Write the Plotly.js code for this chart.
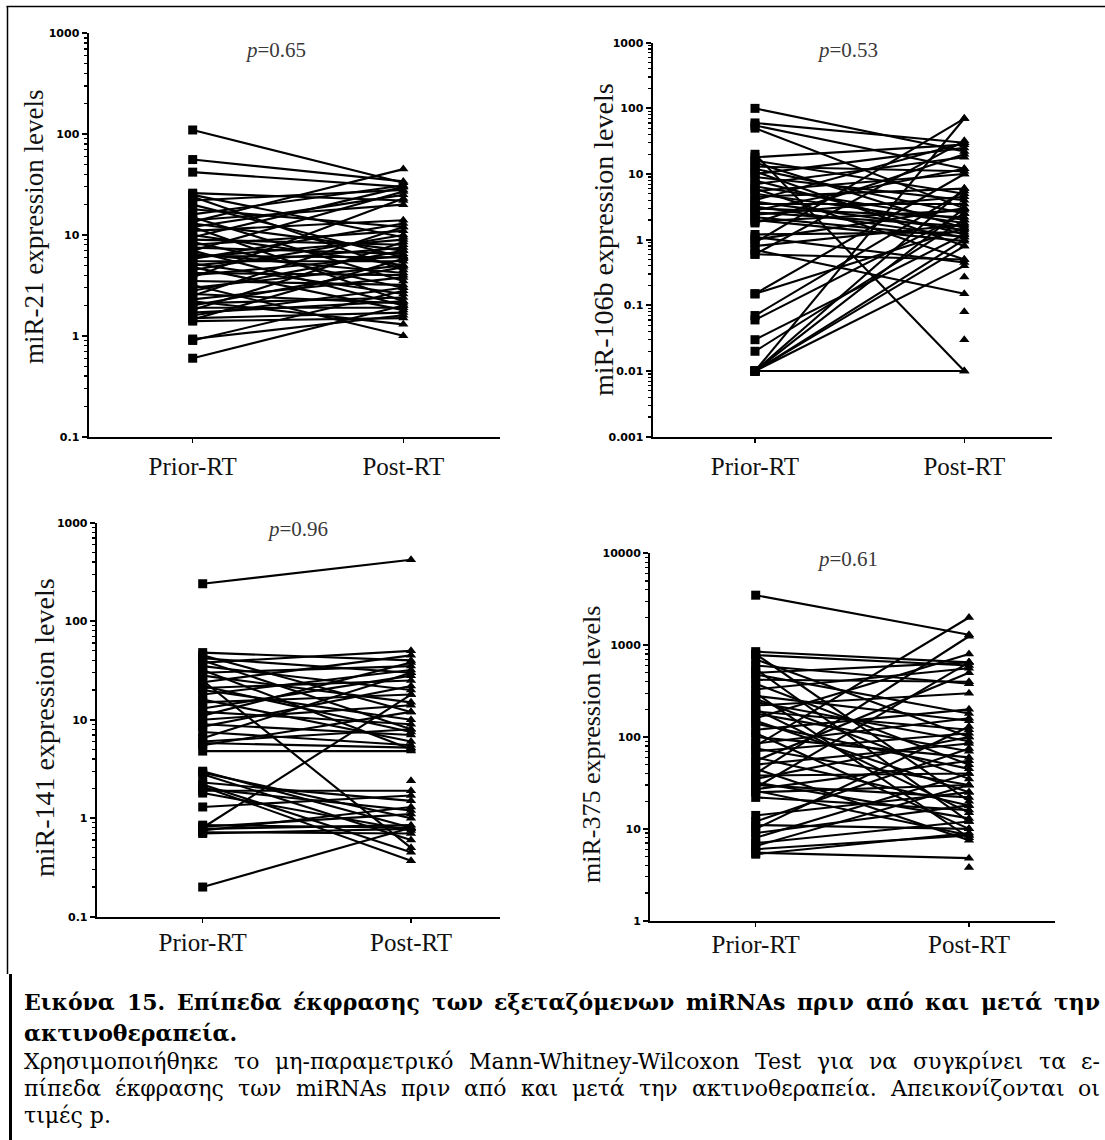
<!DOCTYPE html>
<html>
<head>
<meta charset="utf-8">
<script src="https://cdn.plot.ly/plotly-3.0.1.min.js"></script>
<style>
  html, body { margin: 0; padding: 0; background: #fff; overflow: hidden; }
  #chart { width: 1105px; height: 1140px; }
</style>
</head>
<body>
<div id="chart"></div>
<script>
// ---------------- DATA ----------------
const categories = ['Prior-RT', 'Post-RT'];

// miR-21: paired values (prior[i] -> post[i])
const prior21 = [110, 56, 42, 26, 25, 24, 22, 20, 18, 16, 15, 14, 13, 12, 12, 11, 10, 9.5, 9, 8.5,
                 8, 7.5, 7, 7, 6.5, 6.2, 6, 5.8, 5.5, 5.2, 5, 4.8, 4.5, 4.2, 4, 3.8, 3.5, 3.2, 3, 2.8,
                 2.6, 2.5, 2.3, 2.2, 2.1, 2.0, 1.9, 1.8, 1.7, 1.6, 1.5, 1.45, 1.4, 0.93, 0.9, 0.6, 13.5];
const post21  = [33, 34, 30, 22, 9.5, 4.5, 28, 6, 12, 31, 3.5, 20, 7, 25, 2.2, 14, 5, 30, 8, 3,
                 11, 6.5, 2.0, 27, 4.2, 6, 9, 13, 5.5, 2.6, 7.5, 1.8, 10, 4, 6.2, 23, 3.2, 1.0, 5, 7,
                 2.1, 12, 3.8, 1.3, 2.4, 4.8, 1.9, 8.5, 2.2, 3, 1.7, 5.8, 1.5, 1.6, 2.8, 2.0, 45];
const postOnly21 = [];

// miR-106b
const prior106 = [100, 60, 55, 50, 20, 18, 16, 15, 13, 12, 11, 10, 9, 8, 7, 6.5, 6, 5.5, 5, 4.5,
                  4, 3.8, 3.5, 3.2, 3, 2.8, 2.6, 2.4, 2.2, 2, 1.9, 1.8, 1.2, 1.1, 1.0, 0.9, 0.8, 0.7, 0.6, 0.6,
                  0.15, 0.15, 0.07, 0.06, 0.03, 0.02, 0.01, 0.01, 0.01, 0.01, 0.01, 0.01, 0.01];
const post106  = [22, 30, 12, 3, 0.01, 28, 5, 1.5, 11, 2.5, 0.8, 25, 4, 1.2, 18, 2, 0.5, 10, 1.8, 6,
                  30, 1.4, 3.5, 1.1, 2.2, 12, 1.6, 4.5, 1.1, 0.95, 2.8, 20, 1.3, 0.45, 3, 70, 1.7, 0.15, 0.5, 32,
                  1.5, 10, 5.5, 2.5, 1.2, 2, 0.01, 0.4, 0.8, 1, 3, 6, 70];
const postOnly106 = [0.27, 0.08, 0.03];

// miR-141
const prior141 = [240, 48, 45, 42, 40, 38, 35, 32, 30, 28, 25, 24, 22, 21, 20, 18, 16, 15, 13, 12,
                  11, 10, 9, 8.5, 7.5, 6.5, 6, 5.8, 5.5, 4.8, 3, 2.9, 2.8, 2.3, 2.2, 2.0, 1.9, 1.8, 1.3, 0.85,
                  0.82, 0.8, 0.78, 0.75, 0.72, 0.7, 0.2, 2.1];
const post141  = [420, 40, 12, 30, 8, 50, 20, 5, 35, 15, 0.5, 45, 7.5, 25, 10, 32, 6, 18, 28, 9,
                  38, 14, 7, 22, 5.5, 30, 8, 5.2, 12, 4.8, 0.8, 1.0, 0.6, 1.5, 0.45, 1.2, 1.9, 0.75, 1.7, 0.8,
                  1.1, 18, 0.85, 1.3, 0.7, 0.78, 0.8, 0.37];
const postOnly141 = [2.4];

// miR-375
const prior375 = [3500, 850, 800, 780, 700, 600, 550, 500, 480, 420, 380, 330, 300, 280, 260, 240, 220, 200, 190, 180,
                  160, 150, 140, 120, 110, 100, 85, 80, 75, 70, 60, 55, 50, 45, 40, 38, 35, 32, 30, 28,
                  27, 26, 25, 22, 14, 12, 11, 10, 9, 8, 7, 6.5, 6, 5.5, 5.3];
const post375  = [1300, 650, 20, 600, 100, 380, 12, 650, 180, 400, 50, 560, 8, 150, 35, 90, 300, 15, 120, 70,
                  800, 25, 45, 200, 10, 60, 160, 2000, 30, 110, 18, 500, 85, 7.5, 1250, 40, 100, 13, 22, 650,
                  55, 8.5, 30, 16, 25, 75, 10, 130, 18, 40, 12, 30, 8.5, 4.8, 9];
const postOnly375 = [3.8];

const pValues = ['0.65', '0.53', '0.96', '0.61'];
const yTitles = ['miR-21 expression levels', 'miR-106b expression levels',
                 'miR-141 expression levels', 'miR-375 expression levels'];

const captionBold1 = 'Εικόνα 15. Επίπεδα έκφρασης των εξεταζόμενων miRNAs πριν από και μετά την';
const captionBold2 = 'ακτινοθεραπεία.';
const captionReg1 = 'Χρησιμοποιήθηκε το μη-παραμετρικό Mann-Whitney-Wilcoxon Test για να συγκρίνει τα ε-';
const captionReg2 = 'πίπεδα έκφρασης των miRNAs πριν από και μετά την ακτινοθεραπεία. Απεικονίζονται οι';
const captionReg3 = 'τιμές p.';

// ---------------- LAYOUT GEOMETRY (pixels) ----------------
const W = 1105, H = 1140;
const fx = p => p / W;
const fy = p => 1 - p / H;

const panels = [
  {prior: prior21, post: post21, only: postOnly21, ax: 88.5, c0: 192.7, c1: 403.3, end: 500,
   top: 33.3, bot: 436.7, yr: [-1, 3], tX: 34, tY: 227, tS: 27, pX: 275, pY: 50, catS: 25, catOff: 2},
  {prior: prior106, post: post106, only: postOnly106, ax: 652.5, c0: 755, c1: 964.3, end: 1051.7,
   top: 42.7, bot: 436.7, yr: [-3, 3], tX: 603, tY: 240, tS: 28, pX: 847, pY: 50, catS: 25, catOff: 2},
  {prior: prior141, post: post141, only: postOnly141, ax: 96.7, c0: 202.7, c1: 411, end: 500,
   top: 522.7, bot: 916.7, yr: [-1, 3], tX: 44, tY: 728, tS: 28, pX: 297, pY: 529, catS: 25, catOff: -2},
  {prior: prior375, post: post375, only: postOnly375, ax: 650, c0: 755.7, c1: 969, end: 1055,
   top: 553.3, bot: 920.7, yr: [0, 4], tX: 591, tY: 745, tS: 26, pX: 847, pY: 559, catS: 25, catOff: -4}
];

const data = [];
const layout = {
  width: W, height: H,
  margin: {l: 0, r: 0, t: 0, b: 0},
  paper_bgcolor: '#fff', plot_bgcolor: 'rgba(0,0,0,0)',
  showlegend: false,
  annotations: [], shapes: []
};

panels.forEach((pn, i) => {
  const n = i + 1;
  const xa = n === 1 ? 'x' : 'x' + n;
  const ya = n === 1 ? 'y' : 'y' + n;
  const xs = [], ys = [], syms = [];
  pn.prior.forEach((v, k) => {
    xs.push(0, 1, null);
    ys.push(v, pn.post[k], null);
    syms.push('square', 'triangle-up', 'square');
  });
  data.push({
    type: 'scatter', mode: 'lines+markers', xaxis: xa, yaxis: ya,
    x: xs, y: ys, connectgaps: false, cliponaxis: false,
    line: {color: '#000', width: 2.1},
    marker: {color: '#000', size: 9, symbol: syms},
    hoverinfo: 'skip'
  });
  if (pn.only.length) {
    data.push({
      type: 'scatter', mode: 'markers', xaxis: xa, yaxis: ya,
      x: pn.only.map(() => 1), y: pn.only, cliponaxis: false,
      marker: {color: '#000', size: 9, symbol: 'triangle-up'}, hoverinfo: 'skip'
    });
  }
  const span = pn.c1 - pn.c0;
  layout['xaxis' + (n === 1 ? '' : n)] = {
    domain: [fx(pn.ax), fx(pn.end)], anchor: ya,
    range: [(pn.ax - pn.c0) / span, (pn.end - pn.c0) / span],
    tickmode: 'array', tickvals: [0, 1], ticktext: categories,
    showline: true, linecolor: '#000', linewidth: 2,
    ticks: 'outside', ticklen: 4, tickwidth: 1.5, tickcolor: '#000',
    ticklabelstandoff: pn.catOff,
    tickfont: {family: 'Liberation Serif, serif', size: pn.catS, color: '#111'},
    showgrid: false, zeroline: false, fixedrange: true
  };
  layout['yaxis' + (n === 1 ? '' : n)] = {
    domain: [fy(pn.bot), fy(pn.top)], anchor: xa, type: 'log',
    range: pn.yr, tickmode: 'linear', tick0: 0, dtick: 1, tickformat: '~g',
    showline: true, linecolor: '#000', linewidth: 2,
    ticks: 'outside', ticklen: 5, tickwidth: 2, tickcolor: '#000',
    ticklabelstandoff: 0,
    tickfont: {family: 'DejaVu Sans, sans-serif', size: 11, color: '#000', weight: 'bold'},
    minor: {dtick: 'D1', ticks: 'outside', ticklen: 3, tickwidth: 1.2, tickcolor: '#000', showgrid: false},
    showgrid: false, zeroline: false, fixedrange: true
  };
  layout.annotations.push({
    xref: 'paper', yref: 'paper', x: fx(pn.tX), y: fy(pn.tY), xanchor: 'center', yanchor: 'middle',
    text: yTitles[i], textangle: -90, showarrow: false,
    font: {family: 'Liberation Serif, serif', size: pn.tS, color: '#111'}
  });
  layout.annotations.push({
    xref: 'paper', yref: 'paper', x: fx(pn.pX), y: fy(pn.pY), xanchor: 'center', yanchor: 'middle',
    text: '<i>p</i>=' + pValues[i], showarrow: false,
    font: {family: 'Liberation Serif, serif', size: 21, color: '#3a3a3a'}
  });
});

// frame lines
layout.shapes.push(
  {type: 'line', xref: 'paper', yref: 'paper', x0: fx(6.5), x1: fx(1105), y0: fy(6.5), y1: fy(6.5), line: {color: '#000', width: 1.5}},
  {type: 'line', xref: 'paper', yref: 'paper', x0: fx(7.5), x1: fx(7.5), y0: fy(6), y1: fy(974), line: {color: '#000', width: 1.5}},
  {type: 'line', xref: 'paper', yref: 'paper', x0: fx(10.5), x1: fx(10.5), y0: fy(974), y1: fy(1140), line: {color: '#000', width: 3}}
);

// caption: measure words with a temporary SVG text node using the same font as Plotly
const capFam = 'DejaVu Serif, serif';
const svgNS = 'http://www.w3.org/2000/svg';
const mSvg = document.createElementNS(svgNS, 'svg');
mSvg.setAttribute('width', '10'); mSvg.setAttribute('height', '10');
mSvg.style.position = 'absolute'; mSvg.style.left = '0px'; mSvg.style.top = '0px'; mSvg.style.visibility = 'hidden';
const mText = document.createElementNS(svgNS, 'text');
mSvg.appendChild(mText);
document.body.appendChild(mSvg);
function measure(t, size, weight) {
  mText.setAttribute('style', 'font-family:' + capFam + ';font-size:' + size + 'px;font-weight:' + weight + ';white-space:pre');
  mText.textContent = t;
  return mText.getComputedTextLength();
}
const X0 = 24, X1 = 1100;
const boldSize = Math.min(22, 20 * (X1 - X0) / measure(captionBold1, 20, 'bold'));
const regSize = Math.min(22, 20 * (X1 - X0 - 2) / measure(captionReg1, 20, 'normal'));
const pending = [];
function addLine(t, yc, size, weight, justify) {
  const font = {family: capFam, size: size, color: '#000', weight: weight};
  if (!justify) {
    pending.push({xref: 'paper', yref: 'paper', x: fx(X0 - 1), y: fy(yc), xanchor: 'left', yanchor: 'middle',
      text: t, showarrow: false, font: font, borderpad: 0});
    return;
  }
  const words = t.split(' ');
  const ws = words.map(w => measure(w, size, weight));
  const sum = ws.reduce((a, b) => a + b, 0);
  const gap = (X1 - X0 - sum) / (words.length - 1);
  let x = X0;
  words.forEach((w, k) => {
    pending.push({xref: 'paper', yref: 'paper', x: fx(x - 1), y: fy(yc), xanchor: 'left', yanchor: 'middle',
      text: w, showarrow: false, font: font, borderpad: 0});
    x += ws[k] + gap;
  });
}
addLine(captionBold1, 1002, boldSize, 'bold', true);
addLine(captionBold2, 1033, boldSize, 'bold', false);
addLine(captionReg1, 1061, regSize, 'normal', true);
addLine(captionReg2, 1088, regSize, 'normal', true);
addLine(captionReg3, 1115, regSize, 'normal', false);
document.body.removeChild(mSvg);
layout.annotations = layout.annotations.concat(pending);

Plotly.newPlot('chart', data, layout, {staticPlot: true, displayModeBar: false});
</script>
</body>
</html>
